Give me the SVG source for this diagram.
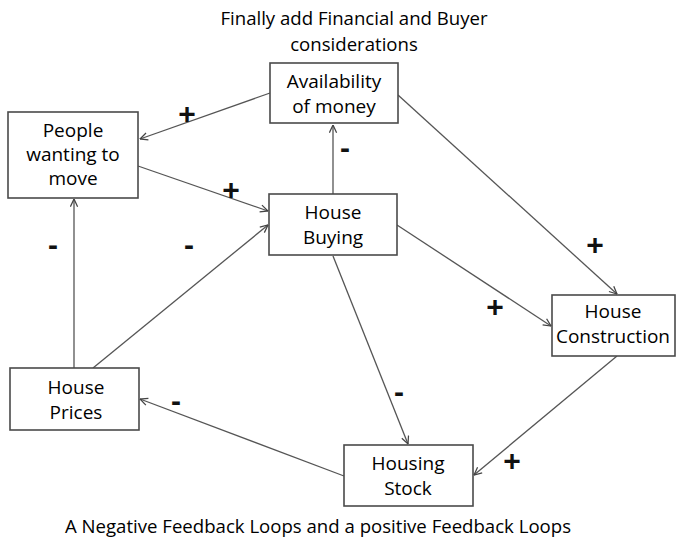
<svg xmlns="http://www.w3.org/2000/svg" width="679" height="542" viewBox="0 0 679 542">
  <style>
    .box { fill: #ffffff; stroke: #4a4a4a; stroke-width: 1.6; }
    .lbl { font-family: "Open Sans", "Liberation Sans", sans-serif; font-size: 19px; fill: #000; text-anchor: middle; }
    .cap { font-family: "Open Sans", "Liberation Sans", sans-serif; font-size: 18.6px; fill: #000; text-anchor: middle; }
    .edge { fill: none; stroke: #555; stroke-width: 1.3; marker-end: url(#arr); }
    .sign { font-family: "Liberation Sans", "Open Sans", sans-serif; font-size: 30px; font-weight: bold; fill: #111; text-anchor: middle; }
  </style>
  <defs>
    <marker id="arr" viewBox="0 0 10 10" refX="9.5" refY="5" markerWidth="9" markerHeight="9" markerUnits="userSpaceOnUse" orient="auto">
      <path d="M1,1 L9.5,5 L1,9" fill="none" stroke="#444" stroke-width="1.4"/>
    </marker>
  </defs>
  <rect width="679" height="542" fill="#ffffff"/>

  <text class="cap" x="354" y="25">Finally add Financial and Buyer</text>
  <text class="cap" x="354" y="51">considerations</text>
  <text class="cap" x="318" y="533">A Negative Feedback Loops and a positive Feedback Loops</text>

  <g id="connectors">
    <line class="edge" x1="270" y1="93" x2="140" y2="139"/>
    <line class="edge" x1="138" y1="166" x2="268" y2="211"/>
    <line class="edge" x1="333" y1="194" x2="333" y2="125"/>
    <line class="edge" x1="398" y1="95" x2="617" y2="294"/>
    <line class="edge" x1="397" y1="225" x2="551" y2="326"/>
    <line class="edge" x1="617" y1="356" x2="474" y2="475"/>
    <line class="edge" x1="333" y1="256" x2="408" y2="444"/>
    <line class="edge" x1="344" y1="476" x2="140" y2="399"/>
    <line class="edge" x1="74" y1="368" x2="74" y2="199"/>
    <line class="edge" x1="93" y1="368" x2="268" y2="225"/>
    <text class="sign" x="187" y="124">+</text>
    <text class="sign" x="231" y="200">+</text>
    <text class="sign" x="345" y="158">-</text>
    <text class="sign" x="595" y="255">+</text>
    <text class="sign" x="495" y="317">+</text>
    <text class="sign" x="512" y="471">+</text>
    <text class="sign" x="399" y="402">-</text>
    <text class="sign" x="176" y="411">-</text>
    <text class="sign" x="53" y="255">-</text>
    <text class="sign" x="189" y="255">-</text>
  </g>

  <g id="availability">
    <rect class="box" x="270" y="63" width="128" height="60"/>
    <text class="lbl" x="334" y="88">Availability</text>
    <text class="lbl" x="334" y="113">of money</text>
  </g>
  <g id="people">
    <rect class="box" x="8" y="112" width="130" height="86"/>
    <text class="lbl" x="73" y="137">People</text>
    <text class="lbl" x="73" y="161">wanting to</text>
    <text class="lbl" x="73" y="185">move</text>
  </g>
  <g id="buying">
    <rect class="box" x="269" y="194" width="128" height="61"/>
    <text class="lbl" x="333" y="219">House</text>
    <text class="lbl" x="333" y="244">Buying</text>
  </g>
  <g id="construction">
    <rect class="box" x="552" y="295" width="123" height="61"/>
    <text class="lbl" x="613" y="318">House</text>
    <text class="lbl" x="613" y="343">Construction</text>
  </g>
  <g id="prices">
    <rect class="box" x="10" y="368" width="129" height="62"/>
    <text class="lbl" x="76" y="394">House</text>
    <text class="lbl" x="76" y="419">Prices</text>
  </g>
  <g id="stock">
    <rect class="box" x="344" y="445" width="129" height="61"/>
    <text class="lbl" x="408" y="470">Housing</text>
    <text class="lbl" x="408" y="495">Stock</text>
  </g>
</svg>
